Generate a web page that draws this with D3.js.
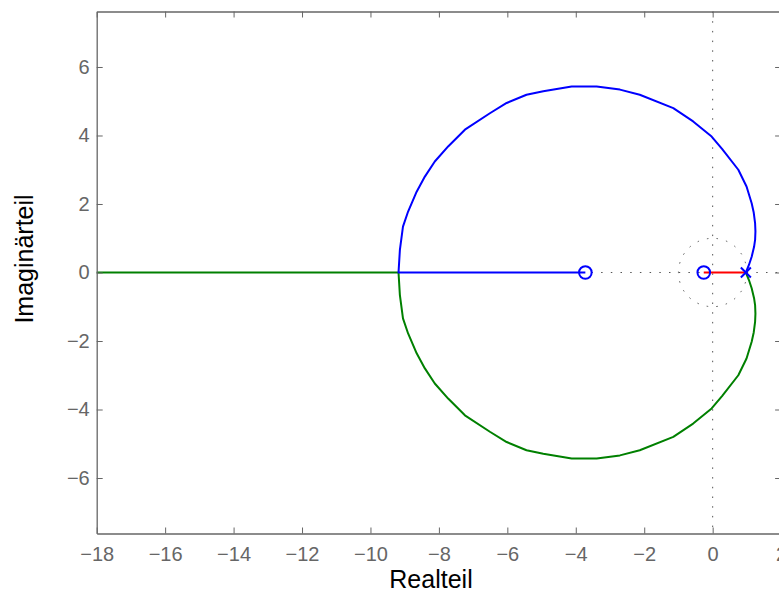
<!DOCTYPE html>
<html>
<head>
<meta charset="utf-8">
<script src="https://cdn.jsdelivr.net/npm/d3@7"></script>
<style>
  body { margin: 0; background: #fff; }
  svg { display: block; font-family: "Liberation Sans", Arial, sans-serif; }
</style>
</head>
<body>
<script>
// poles and zeros
const poles = [[0.97, 0]]
const zeros = [[-3.72, 0], [-0.26, 0]]

// branch 1 (blue): pole -> upper arc -> break-in -> zero at -3.72
const branchBlue = [
  [0.97, 0], [1.06, 0.22], [1.14, 0.46], [1.21, 0.75], [1.24, 0.95], [1.25, 1.2],
  [1.24, 1.44], [1.2, 1.75], [1.14, 2.02], [0.99, 2.51], [0.75, 3.0], [0.28, 3.6],
  [-0.03, 3.97], [-0.57, 4.41], [-1.15, 4.8], [-2.13, 5.19], [-2.71, 5.34], [-3.39, 5.43],
  [-4.12, 5.43], [-4.95, 5.29], [-5.44, 5.19], [-6.02, 4.95], [-6.51, 4.65], [-7.24, 4.17],
  [-7.73, 3.68], [-8.12, 3.24], [-8.41, 2.8], [-8.65, 2.36], [-8.9, 1.78], [-9.05, 1.34],
  [-9.14, 0.66], [-9.18, 0], [-3.72, 0]
]
// branch 2 (green): pole -> lower arc -> break-in -> towards -inf
const branchGreen = [
  [0.97, 0], [1.06, -0.22], [1.14, -0.46], [1.21, -0.75], [1.24, -0.95], [1.25, -1.2],
  [1.24, -1.44], [1.2, -1.75], [1.14, -2.02], [0.99, -2.51], [0.75, -3.0], [0.28, -3.6],
  [-0.03, -3.97], [-0.57, -4.41], [-1.15, -4.8], [-2.13, -5.19], [-2.71, -5.34], [-3.39, -5.43],
  [-4.12, -5.43], [-4.95, -5.29], [-5.44, -5.19], [-6.02, -4.95], [-6.51, -4.65], [-7.24, -4.17],
  [-7.73, -3.68], [-8.12, -3.24], [-8.41, -2.8], [-8.65, -2.36], [-8.9, -1.78], [-9.05, -1.34],
  [-9.14, -0.66], [-9.18, 0], [-19, 0]
]
// branch 3 (red): pole -> zero at -0.26
const branchRed = [[0.97, 0], [-0.26, 0]]

const xTicks = [-18, -16, -14, -12, -10, -8, -6, -4, -2, 0, 2]
const yTicks = [-6, -4, -2, 0, 2, 4, 6]

const width = 779
const height = 592
const mLeft = 96.7, mRight = 781.1, mTop = 11.5, mBottom = 533.5

const svg = d3.select("body")
    .append("svg")
    .attr("width", width)
    .attr("height", height)

const x = d3.scaleLinear().domain([-18, 2]).range([mLeft, mRight])
const y = d3.scaleLinear().domain([-7.62, 7.62]).range([mBottom, mTop])

svg.append("clipPath")
    .attr("id", "plot")
    .append("rect")
    .attr("x", mLeft).attr("y", mTop)
    .attr("width", mRight - mLeft).attr("height", mBottom - mTop)

const plot = svg.append("g").attr("clip-path", "url(#plot)")

// dotted grid: axes through origin and unit circle
const dotted = plot.append("g")
    .attr("fill", "none")
    .attr("stroke", "#555")
    .attr("stroke-width", 1)
    .attr("stroke-dasharray", "1.5,8.2")

dotted.append("line")
    .attr("x1", x(-18)).attr("x2", x(2))
    .attr("y1", y(0)).attr("y2", y(0))
dotted.append("line")
    .attr("x1", x(0)).attr("x2", x(0))
    .attr("y1", y(7.62)).attr("y2", y(-7.62))
dotted.append("circle")
    .attr("cx", x(0)).attr("cy", y(0))
    .attr("r", x(1) - x(0))

const line = d3.line()
    .x(d => x(d[0]))
    .y(d => y(d[1]))

const branches = [
  { pts: branchGreen, color: "#008000" },
  { pts: branchBlue, color: "#0000ff" },
  { pts: branchRed, color: "#ff0000" }
]

plot.selectAll("path.branch")
    .data(branches)
    .join("path")
    .attr("class", "branch")
    .attr("d", d => line(d.pts))
    .attr("fill", "none")
    .attr("stroke", d => d.color)
    .attr("stroke-width", 2)
    .attr("stroke-linejoin", "round")

plot.selectAll("circle.zero")
    .data(zeros)
    .join("circle")
    .attr("class", "zero")
    .attr("cx", d => x(d[0]))
    .attr("cy", d => y(d[1]))
    .attr("r", 6.3)
    .attr("fill", "none")
    .attr("stroke", "#0000ff")
    .attr("stroke-width", 2)

const s = 5
plot.selectAll("path.pole")
    .data(poles)
    .join("path")
    .attr("class", "pole")
    .attr("d", d => {
      const cx = x(d[0]), cy = y(d[1])
      return `M${cx - s},${cy - s}L${cx + s},${cy + s}M${cx - s},${cy + s}L${cx + s},${cy - s}`
    })
    .attr("stroke", "#0000ff")
    .attr("stroke-width", 2)

// axes box with inward ticks
const axisColor = "#666"
const styleAxis = g => {
  g.select(".domain").attr("stroke", axisColor).attr("stroke-width", 1.3)
  g.selectAll(".tick line").attr("stroke", axisColor).attr("stroke-width", 1)
  g.selectAll(".tick text").attr("fill", axisColor).style("font-size", "20px")
}

svg.append("g")
    .attr("transform", `translate(0,${mBottom})`)
    .call(d3.axisBottom(x).tickValues(xTicks).tickFormat(d3.format("d"))
      .tickSizeInner(-6).tickSizeOuter(0).tickPadding(13))
    .attr("font-family", null).attr("font-size", null)
    .call(styleAxis)

svg.append("g")
    .attr("transform", `translate(0,${mTop})`)
    .call(d3.axisTop(x).tickValues(xTicks).tickFormat("")
      .tickSizeInner(-6).tickSizeOuter(0))
    .call(styleAxis)

svg.append("g")
    .attr("transform", `translate(${mLeft},0)`)
    .call(d3.axisLeft(y).tickValues(yTicks).tickFormat(d3.format("d"))
      .tickSizeInner(-6).tickSizeOuter(0).tickPadding(7))
    .attr("font-family", null).attr("font-size", null)
    .call(styleAxis)

svg.append("g")
    .attr("transform", `translate(${mRight},0)`)
    .call(d3.axisRight(y).tickValues(yTicks).tickFormat("")
      .tickSizeInner(-6).tickSizeOuter(0))
    .call(styleAxis)

// axis labels
svg.append("text")
    .attr("x", 431)
    .attr("y", 588)
    .attr("text-anchor", "middle")
    .style("font-size", "25px")
    .attr("fill", "#000")
    .text("Realteil")

svg.append("text")
    .attr("transform", "translate(33,259) rotate(-90)")
    .attr("text-anchor", "middle")
    .style("font-size", "25px")
    .attr("fill", "#000")
    .text("Imaginärteil")
</script>
</body>
</html>
